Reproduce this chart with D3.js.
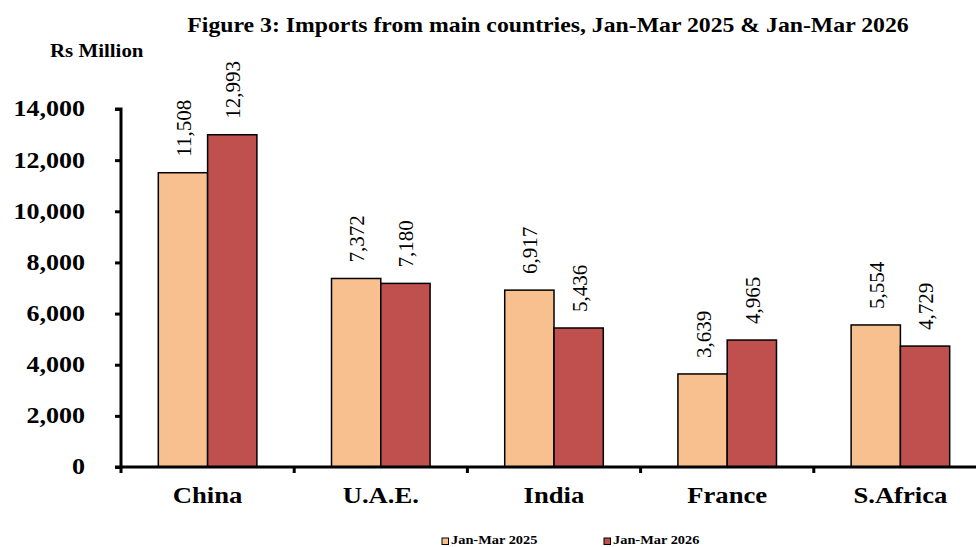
<!DOCTYPE html>
<html><head><meta charset="utf-8">
<script src="https://cdn.jsdelivr.net/npm/d3@7"></script>
<style>body{margin:0;background:#fff}svg{display:block}</style>
</head><body>
<svg id="c" width="976" height="547"></svg>
<script>
const categories = ["China","U.A.E.","India","France","S.Africa"];
const seriesNames = ["Jan-Mar 2025","Jan-Mar 2026"];
const values2025 = [11508,7372,6917,3639,5554];
const values2026 = [12993,7180,5436,4965,4729];
const yTicks = [0,2000,4000,6000,8000,10000,12000,14000];
const colors = ["#F9C08F","#C0504D"];

(function(){
const svg = d3.select("#c");
const font = "'Liberation Serif','Times New Roman',serif";
const pL = 121, pR = 987, pT = 109, pB = 467;
const stretch = 1.13;
function widen(sel, f){
  sel.each(function(){
    const n = this.getComputedTextLength();
    d3.select(this).attr("textLength", n*(f||stretch)).attr("lengthAdjust","spacingAndGlyphs");
  });
}

const x = d3.scaleBand().domain(categories).range([pL,pR]).paddingInner(0).paddingOuter(0);
const x1 = d3.scaleBand().domain(seriesNames).range([0,x.bandwidth()]).paddingInner(0).paddingOuter(0.757);
const y = d3.scaleLinear().domain([0,14000]).range([pB,pT]);

const title = svg.append("text").attr("x",548).attr("y",32).attr("text-anchor","middle")
  .attr("font-family",font).attr("font-weight","bold").attr("font-size",21)
  .text("Figure 3: Imports from main countries, Jan-Mar 2025 & Jan-Mar 2026");
widen(title);
const unit = svg.append("text").attr("x",50).attr("y",57)
  .attr("font-family",font).attr("font-weight","bold").attr("font-size",18.5)
  .text("Rs Million");
widen(unit);

const data = categories.map((c,i)=>({c, vals:[values2025[i],values2026[i]]}));
const g = svg.append("g");
data.forEach(d=>{
  d.vals.forEach((v,j)=>{
    const bx = x(d.c)+x1(seriesNames[j]);
    g.append("rect").attr("x",bx).attr("y",y(v)).attr("width",x1.bandwidth()).attr("height",y(0)-y(v))
      .attr("fill",colors[j]).attr("stroke","#000").attr("stroke-width",1.5);
    g.append("text").attr("transform",`translate(${bx+x1.bandwidth()/2+8},${y(v)-16}) rotate(-90)`)
      .attr("font-family",font).attr("font-size",21).attr("text-anchor","start")
      .text(d3.format(",")(v));
  });
});

const yAxis = d3.axisLeft(y).tickValues(yTicks).tickFormat(d3.format(",")).tickSize(6).tickPadding(30);
const ya = svg.append("g").attr("transform",`translate(${pL},0)`).call(yAxis);
ya.select(".domain").attr("stroke","#000").attr("stroke-width",3).attr("d",`M-6,${pT}H0V${pB}`);
ya.selectAll(".tick line").attr("stroke","#000").attr("stroke-width",3);
const yl = ya.selectAll(".tick text").attr("font-family",font).attr("font-weight","bold").attr("font-size",23).attr("fill","#000").attr("dy","0.3em");
widen(yl);

const xa = svg.append("g").attr("transform",`translate(0,${pB})`);
xa.append("line").attr("x1",pL-6).attr("x2",976).attr("y1",0).attr("y2",0).attr("stroke","#000").attr("stroke-width",3);
const bounds = categories.map(c=>x(c)).concat([x(categories[categories.length-1])+x.bandwidth()]);
bounds.forEach(b=>{ if(b<=976) xa.append("line").attr("x1",b).attr("x2",b).attr("y1",0).attr("y2",6).attr("stroke","#000").attr("stroke-width",3);});
categories.forEach(c=>{
  const t = xa.append("text").attr("x",x(c)+x.bandwidth()/2).attr("y",36).attr("text-anchor","middle")
    .attr("font-family",font).attr("font-weight","bold").attr("font-size",24).text(c);
  widen(t, 1.11);
});

const legX = [442,604];
seriesNames.forEach((s,i)=>{
  svg.append("rect").attr("x",legX[i]).attr("y",538).attr("width",6.5).attr("height",6.5)
    .attr("fill",colors[i]).attr("stroke","#000").attr("stroke-width",1);
  const t = svg.append("text").attr("x",legX[i]+9).attr("y",544).attr("font-family",font).attr("font-weight","bold").attr("font-size",12.5).text(s);
  widen(t, 1.15);
});
})();
</script>
</body></html>
